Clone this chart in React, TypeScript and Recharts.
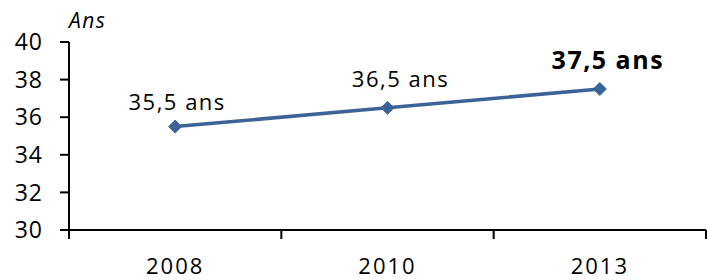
import React from "react";
import { LineChart, Line, XAxis, YAxis, LabelList } from "recharts";

// Âge moyen, en années
const years = ["2008", "2010", "2013"];
const ages = [35.5, 36.5, 37.5];
const labels = ["35,5 ans", "36,5 ans", "37,5 ans"];
const yTicks = [30, 32, 34, 36, 38, 40];

const data = years.map((year, i) => ({ year, age: ages[i], label: labels[i] }));

const FONT = "'Open Sans', sans-serif";
const BLUE = "#3c6398";
const PLOT_LEFT = 69;
const PLOT_RIGHT = 706;
const BAND = (PLOT_RIGHT - PLOT_LEFT) / years.length;

// label nudges (dx, dy) relative to each point, to mimic the original layout
const labelNudge = [
  [2, -17],
  [13, -21],
  [8, -20],
];

function Diamond(props: any) {
  const { cx, cy } = props;
  if (cx == null || cy == null) return null;
  const r = 6.5;
  return (
    <path
      d={`M${cx},${cy - r}L${cx + r},${cy}L${cx},${cy + r}L${cx - r},${cy}Z`}
      fill={BLUE}
      stroke={BLUE}
    />
  );
}

function XTick(props: any) {
  const { x, y, payload, index } = props;
  const left = x - BAND / 2;
  return (
    <g>
      <line x1={left} y1={y - 8} x2={left} y2={y + 1} stroke="#000" strokeWidth={2} />
      {index === years.length - 1 && (
        <line x1={x + BAND / 2} y1={y - 8} x2={x + BAND / 2} y2={y + 1} stroke="#000" strokeWidth={2} />
      )}
      <text
        x={x}
        y={y + 36}
        textAnchor="middle"
        style={{ fontFamily: FONT, fontSize: 22, letterSpacing: 2 }}
        fill="#000"
      >
        {payload.value}
      </text>
    </g>
  );
}

function PointLabel(props: any) {
  const { x, y, value, index } = props;
  const [dx, dy] = labelNudge[index];
  const last = index === labels.length - 1;
  return (
    <text
      x={x + dx}
      y={y + dy}
      textAnchor="middle"
      style={{
        fontFamily: FONT,
        fontSize: last ? 25 : 22,
        fontWeight: last ? 700 : 400,
        letterSpacing: 1.5,
      }}
      fill="#000"
    >
      {value}
    </text>
  );
}

export default function App() {
  return (
    <div style={{ position: "absolute", left: 0, top: 0, width: 707, height: 280, background: "#fff" }}>
      <LineChart
        width={707}
        height={280}
        data={data}
        margin={{ top: 42, right: 1, bottom: 0, left: 0 }}
      >
        <XAxis
          dataKey="year"
          scale="band"
          axisLine={{ stroke: "#000", strokeWidth: 2 }}
          tickLine={false}
          tick={<XTick />}
          height={50}
          interval={0}
        />
        <YAxis
          domain={[30, 40]}
          ticks={yTicks}
          width={PLOT_LEFT}
          axisLine={{ stroke: "#000", strokeWidth: 2 }}
          tickLine={{ stroke: "#000", strokeWidth: 2 }}
          tickSize={9}
          tickMargin={17}
          tick={{ fontFamily: FONT, fontSize: 23, fill: "#000", letterSpacing: 1 }}
          interval={0}
        />
        <Line
          dataKey="age"
          stroke={BLUE}
          strokeWidth={3.5}
          dot={<Diamond />}
          activeDot={false}
          isAnimationActive={false}
        >
          <LabelList dataKey="label" content={<PointLabel />} />
        </Line>
        <text x={69} y={28} style={{ fontFamily: FONT, fontSize: 21, fontStyle: "italic", letterSpacing: 1.5 }} fill="#000">
          Ans
        </text>
      </LineChart>
    </div>
  );
}
